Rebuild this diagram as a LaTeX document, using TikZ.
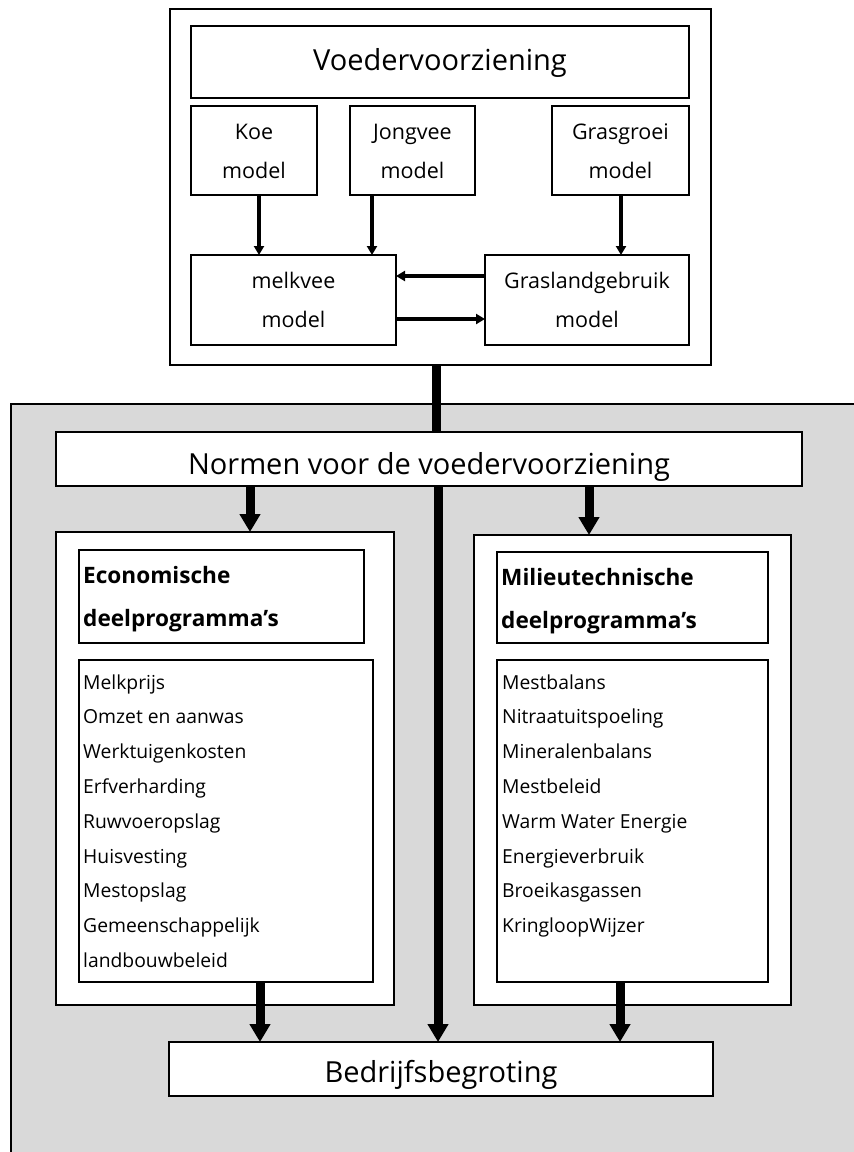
\documentclass[tikz,border=0pt]{standalone}
\usepackage{fontspec}
\setmainfont{Open Sans}
\usetikzlibrary{arrows.meta}
\definecolor{panelgray}{RGB}{217,217,217}
\begin{document}
\begin{tikzpicture}[x=1pt,y=-1pt,
  bx/.style={draw=black, line width=2pt, fill=white, inner sep=0pt, outer sep=0pt},
  big/.style={font=\fontsize{29}{32}\selectfont, inner sep=0pt, anchor=base},
  mid/.style={font=\fontsize{21.5}{24}\selectfont, inner sep=0pt, anchor=base},
  lst/.style={font=\fontsize{19.3}{22}\selectfont, inner sep=0pt, anchor=base west},
  hdr/.style={font=\bfseries\fontsize{22.6}{25}\selectfont, inner sep=0pt, anchor=base west},
  thinarrow/.style={line width=4pt, -{Triangle[width=10pt,length=9pt]}},
  thickarrow/.style={line width=9pt, -{Triangle[width=20pt,length=18pt]}},
]
\useasboundingbox (0,0) rectangle (854,1152);
% grey panel
\fill[panelgray] (11,404) rectangle (854,1152);
\draw[line width=2pt] (854,404) -- (11,404) -- (11,1152);

% top block
\node[bx, minimum width=541pt, minimum height=356pt] (top) at (440.5,187) {};
\node[bx, minimum width=498pt, minimum height=72pt] (voeder) at (440,62) {};
\node[big] (voedertxt) at (440,70.7) {Voedervoorziening};

\node[bx, minimum width=126pt, minimum height=89pt] (koe) at (254,150.5) {};
\node[mid] (koeA) at (254,139) {Koe};
\node[mid] (koeB) at (254,178) {model};

\node[bx, minimum width=125pt, minimum height=89pt] (jong) at (412.5,150.5) {};
\node[mid] (jongA) at (412.5,139) {Jongvee};
\node[mid] (jongB) at (412.5,178) {model};

\node[bx, minimum width=137pt, minimum height=89pt] (gras) at (620.5,150.5) {};
\node[mid] (grasA) at (620.5,139) {Grasgroei};
\node[mid] (grasB) at (620.5,178) {model};

\node[bx, minimum width=205pt, minimum height=90pt] (melkvee) at (293.5,300) {};
\node[mid] (melkA) at (293.5,288) {melkvee};
\node[mid] (melkB) at (293.5,327) {model};

\node[bx, minimum width=204pt, minimum height=90pt] (grasland) at (587,300) {};
\node[mid] (glA) at (587,288) {Graslandgebruik};
\node[mid] (glB) at (587,327) {model};

\draw[thinarrow] (koe.south -| 259,0) -- (melkvee.north -| 259,0);
\draw[thinarrow] (jong.south -| 372,0) -- (melkvee.north -| 372,0);
\draw[thinarrow] (gras.south -| 621,0) -- (grasland.north -| 621,0);
\draw[thinarrow] (grasland.west |- 0,276) -- (melkvee.east |- 0,276);
\draw[thinarrow] (melkvee.east |- 0,319) -- (grasland.west |- 0,319);

% normen
\node[bx, minimum width=746pt, minimum height=54pt] (normen) at (429,459) {};
\node[big] (normentxt) at (429,474) {Normen voor de voedervoorziening};
\draw[line width=9pt] (top.south -| 436,0) -- (normen.north -| 436,0);

% economic
\node[bx, minimum width=338pt, minimum height=473pt] (econ) at (225,768.5) {};
\node[bx, minimum width=285pt, minimum height=93pt] (econhdr) at (221.5,596.5) {};
\node[hdr] (econA) at (83,583) {Economische};
\node[hdr] (econB) at (83,626) {deelprogramma’s};
\node[bx, minimum width=294pt, minimum height=322pt] (econlist) at (226,821) {};
\foreach \t [count=\i from 0] in {Melkprijs, Omzet en aanwas, Werktuigenkosten, Erfverharding, Ruwvoeropslag, Huisvesting, Mestopslag, Gemeenschappelijk, landbouwbeleid}
  \node[lst] (eitem\i) at (83,{689+\i*34.8}) {\t};

% environmental
\node[bx, minimum width=317pt, minimum height=470pt] (milieu) at (632.5,770) {};
\node[bx, minimum width=271pt, minimum height=91pt] (milieuhdr) at (632.5,597.5) {};
\node[hdr] (milA) at (501,585) {Milieutechnische};
\node[hdr] (milB) at (501,628) {deelprogramma’s};
\node[bx, minimum width=271pt, minimum height=322pt] (milieulist) at (632.5,821) {};
\foreach \t [count=\i from 0] in {Mestbalans, Nitraatuitspoeling, Mineralenbalans, Mestbeleid, Warm Water Energie, Energieverbruik, Broeikasgassen, KringloopWijzer}
  \node[lst] (mitem\i) at (502,{689+\i*34.8}) {\t};

% budget
\node[bx, minimum width=544pt, minimum height=54pt] (bedrijf) at (441,1069) {};
\node[big] (bedrijftxt) at (441,1082) {Bedrijfsbegroting};

\draw[thickarrow] (normen.south -| 250,0) -- (econ.north -| 250,0);
\draw[thickarrow] (normen.south -| 589,0) -- (milieu.north -| 589,0);
\draw[thickarrow] (normen.south -| 438,0) -- (bedrijf.north -| 438,0);
\draw[thickarrow] (econlist.south -| 260,0) -- (bedrijf.north -| 260,0);
\draw[thickarrow] (milieulist.south -| 620,0) -- (bedrijf.north -| 620,0);
\end{tikzpicture}
\end{document}
